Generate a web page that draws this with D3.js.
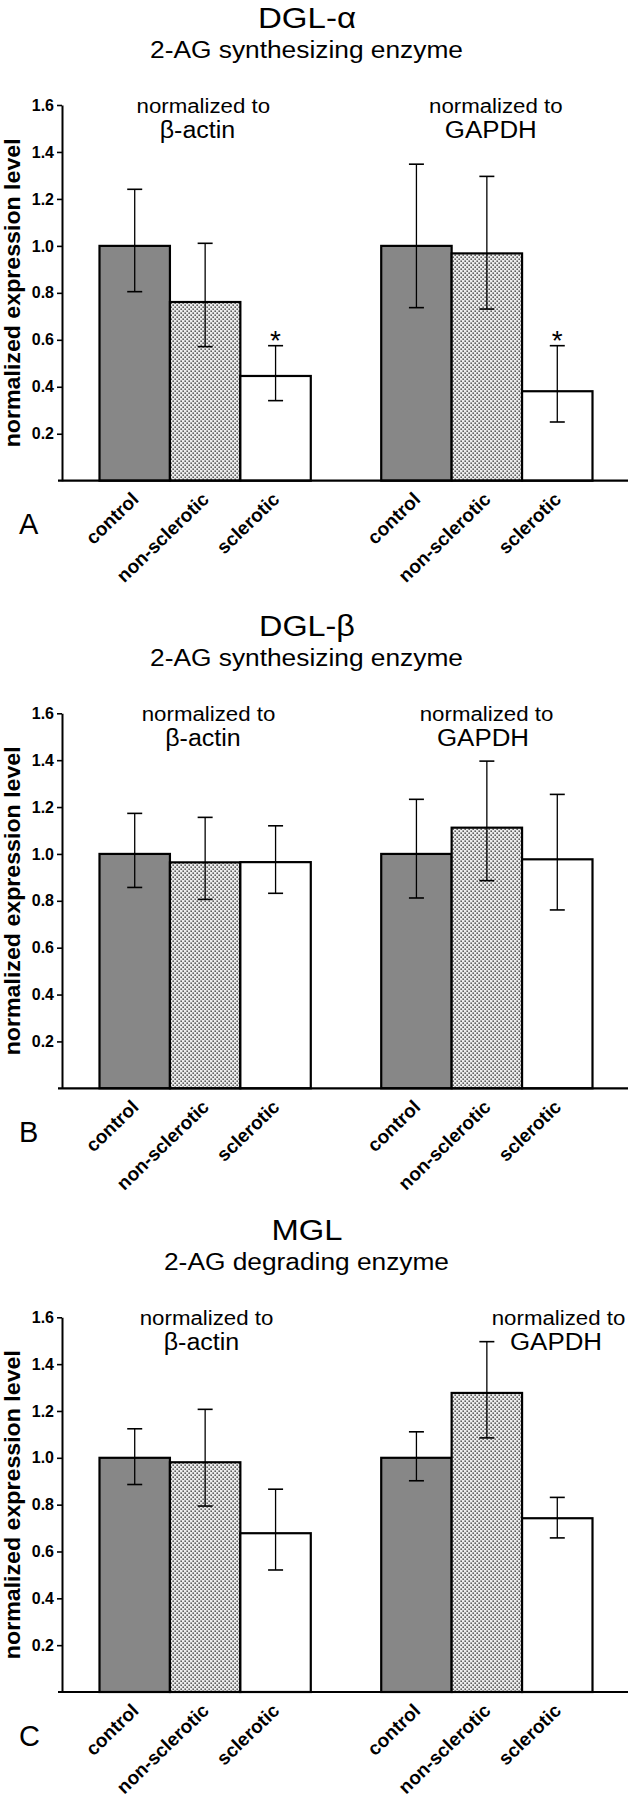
<!DOCTYPE html>
<html><head><meta charset="utf-8">
<script src="https://cdn.jsdelivr.net/npm/d3@7"></script>
<style>
body{margin:0;background:#fff}
svg{display:block}
text{font-family:"Liberation Sans",Arial,Helvetica,sans-serif;fill:#000}
</style>
</head><body>
<svg id="c" width="630" height="1800"></svg>
<script>
// ---------- data ----------
const groups = ["β-actin", "GAPDH"];
const conditions = ["control", "non-sclerotic", "sclerotic"];
const yTicks = [0.2, 0.4, 0.6, 0.8, 1.0, 1.2, 1.4, 1.6];
const titles = ["DGL-α", "DGL-β", "MGL"];
const subtitles = ["2-AG synthesizing enzyme", "2-AG synthesizing enzyme", "2-AG degrading enzyme"];
const panelLetters = ["A", "B", "C"];
const yLabel = "normalized expression level";
const noteLine1 = "normalized to";

// order: β-actin control, non-sclerotic, sclerotic, GAPDH control, non-sclerotic, sclerotic
const dglaMean = [1.00, 0.761, 0.446, 1.00, 0.968, 0.381];
const dglaLow  = [0.805, 0.571, 0.341, 0.737, 0.731, 0.250];
const dglaHigh = [1.241, 1.011, 0.575, 1.348, 1.296, 0.575];
const dglaSig  = [false, false, true, false, false, true];

const dglbMean = [1.00, 0.964, 0.965, 1.00, 1.112, 0.977];
const dglbLow  = [0.857, 0.806, 0.832, 0.812, 0.886, 0.761];
const dglbHigh = [1.173, 1.156, 1.120, 1.233, 1.396, 1.254];
const dglbSig  = [false, false, false, false, false, false];

const mglMean = [1.00, 0.981, 0.678, 1.00, 1.277, 0.742];
const mglLow  = [0.886, 0.794, 0.521, 0.902, 1.085, 0.658];
const mglHigh = [1.124, 1.207, 0.866, 1.111, 1.496, 0.831];
const mglSig  = [false, false, false, false, false, false];

const panelsData = [
  {mean: dglaMean, low: dglaLow, high: dglaHigh, sig: dglaSig},
  {mean: dglbMean, low: dglbLow, high: dglbHigh, sig: dglbSig},
  {mean: mglMean,  low: mglLow,  high: mglHigh,  sig: mglSig}
];

// ---------- layout ----------
const layout = [
  {top: 105,   zero: 480.7,  notes: [203.3, 197.5, 495.8, 490.8]},
  {top: 713.3, zero: 1088.3, notes: [208.5, 203.0, 486.5, 483.0]},
  {top: 1317.3,zero: 1692,   notes: [206.5, 201.5, 558.5, 556.0]}
];
const axisX = 62;
const titleW = [98, 96, 71];
const subW = [313, 313, 285];
const fills = {"control": "#878787", "non-sclerotic": "url(#dots)", "sclerotic": "#ffffff"};

const svg = d3.select("#c");
const defs = svg.append("defs");
const pat = defs.append("pattern").attr("id", "dots")
  .attr("patternUnits", "userSpaceOnUse").attr("width", 4).attr("height", 4);
pat.append("rect").attr("width", 4).attr("height", 4).attr("fill", "#ececec");
pat.append("rect").attr("x", 0.4).attr("y", 0.4).attr("width", 1.6).attr("height", 1.6).attr("fill", "#606060");
pat.append("rect").attr("x", 2.4).attr("y", 2.4).attr("width", 1.6).attr("height", 1.6).attr("fill", "#606060");

const x0 = d3.scaleBand().domain(groups).range([99.5, 592.5]).paddingInner(0.25).paddingOuter(0);
const x1 = d3.scaleBand().domain(conditions).range([0, x0.bandwidth()]).padding(0);

panelsData.forEach((pd, p) => {
  const L = layout[p];
  const g = svg.append("g");
  const y = d3.scaleLinear().domain([0, 1.6]).range([L.zero, L.top]);

  const rows = [];
  groups.forEach((gr, gi) => conditions.forEach((c, ci) => {
    const i = gi * 3 + ci;
    rows.push({group: gr, cond: c, mean: pd.mean[i], low: pd.low[i], high: pd.high[i], sig: pd.sig[i]});
  }));

  // titles
  g.append("text").attr("x", 307).attr("y", L.top - 77.5)
    .attr("text-anchor", "middle").attr("font-size", 30)
    .attr("textLength", titleW[p]).attr("lengthAdjust", "spacingAndGlyphs")
    .text(titles[p]);
  g.append("text").attr("x", 306.5).attr("y", L.top - 47)
    .attr("text-anchor", "middle").attr("font-size", 23)
    .attr("textLength", subW[p]).attr("lengthAdjust", "spacingAndGlyphs")
    .text(subtitles[p]);

  // group notes
  groups.forEach((gr, gi) => {
    g.append("text").attr("x", L.notes[gi * 2]).attr("y", L.top + 8)
      .attr("text-anchor", "middle").attr("font-size", 20)
      .attr("textLength", 133.5).attr("lengthAdjust", "spacingAndGlyphs")
      .text(noteLine1);
    g.append("text").attr("x", L.notes[gi * 2 + 1]).attr("y", L.top + 33)
      .attr("text-anchor", "middle").attr("font-size", 23)
      .attr("textLength", gi === 0 ? 75.5 : 92).attr("lengthAdjust", "spacingAndGlyphs")
      .text(gr);
  });

  // bars
  g.selectAll("rect.bar").data(rows).join("rect").attr("class", "bar")
    .attr("x", d => x0(d.group) + x1(d.cond))
    .attr("width", x1.bandwidth())
    .attr("y", d => y(d.mean))
    .attr("height", d => y(0) - y(d.mean))
    .attr("fill", d => fills[d.cond])
    .attr("stroke", "#000").attr("stroke-width", 2.2);

  // error bars
  const cx = d => x0(d.group) + x1(d.cond) + x1.bandwidth() / 2;
  const eb = g.selectAll("g.eb").data(rows).join("g").attr("class", "eb");
  eb.append("line").attr("x1", cx).attr("x2", cx)
    .attr("y1", d => y(d.low)).attr("y2", d => y(d.high))
    .attr("stroke", "#000").attr("stroke-width", 1.3);
  ["low", "high"].forEach(k => {
    eb.append("line").attr("x1", d => cx(d) - 7.5).attr("x2", d => cx(d) + 7.5)
      .attr("y1", d => y(d[k])).attr("y2", d => y(d[k]))
      .attr("stroke", "#000").attr("stroke-width", 1.6);
  });
  // significance
  g.selectAll("text.star").data(rows.filter(d => d.sig)).join("text").attr("class", "star")
    .attr("x", cx).attr("y", d => y(d.high) + 4)
    .attr("text-anchor", "middle").attr("font-size", 28).text("*");

  // y axis
  const ax = g.append("g").attr("transform", `translate(${axisX},0)`)
    .call(d3.axisLeft(y).tickValues(yTicks).tickSize(5).tickSizeOuter(0).tickPadding(3)
      .tickFormat(d3.format(".1f")));
  ax.select(".domain").attr("stroke", "#000").attr("stroke-width", 2);
  ax.selectAll(".tick line").attr("stroke", "#000").attr("stroke-width", 1.6);
  ax.selectAll(".tick text").attr("font-size", 16).attr("font-weight", "bold")
    .attr("font-family", "Liberation Sans, Arial, sans-serif").attr("fill", "#000");

  // x axis baseline
  g.append("line").attr("x1", axisX - 4).attr("x2", 628)
    .attr("y1", y(0)).attr("y2", y(0)).attr("stroke", "#000").attr("stroke-width", 2.2);

  // category labels
  g.selectAll("text.cat").data(rows).join("text").attr("class", "cat")
    .attr("transform", d => `translate(${cx(d) + 5},${y(0) + 20}) rotate(-44)`)
    .attr("text-anchor", "end").attr("font-size", 19).attr("font-weight", "bold")
    .text(d => d.cond);

  // panel letter
  g.append("text").attr("x", 19).attr("y", L.zero + 53.5)
    .attr("font-size", 29).text(panelLetters[p]);

  // y label
  g.append("text")
    .attr("transform", `translate(20,${(L.top + L.zero) / 2}) rotate(-90)`)
    .attr("text-anchor", "middle").attr("font-size", 22).attr("font-weight", "bold")
    .attr("textLength", 309).attr("lengthAdjust", "spacingAndGlyphs")
    .text(yLabel);
});
</script>
</body></html>
